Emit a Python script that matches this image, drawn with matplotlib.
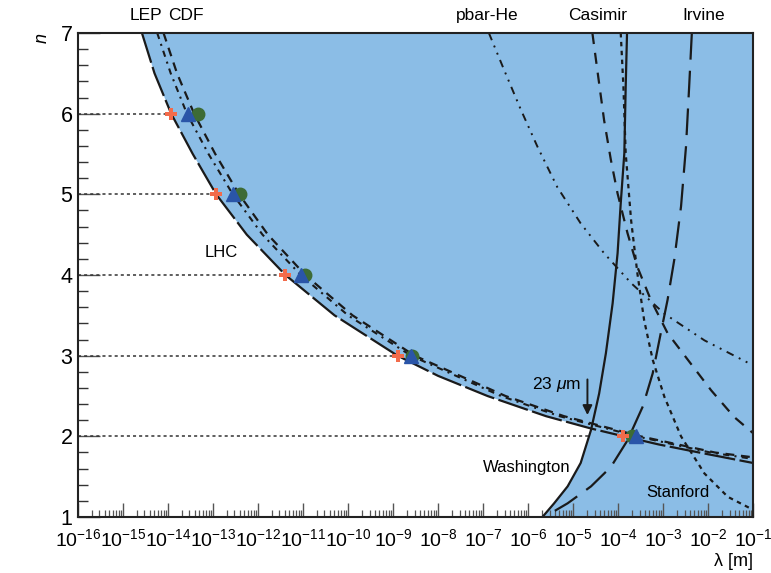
import numpy as np
import matplotlib
matplotlib.use('Agg')
import matplotlib.pyplot as plt
from matplotlib.ticker import LogLocator, FuncFormatter, MultipleLocator, NullFormatter

plt.rcParams['font.family'] = ['Liberation Sans', 'DejaVu Sans']
plt.rcParams['mathtext.fontset'] = 'custom'
plt.rcParams['mathtext.rm'] = 'Liberation Sans'
plt.rcParams['mathtext.it'] = 'Liberation Sans:italic'
plt.rcParams['mathtext.default'] = 'regular'

# curves: log10(lambda / m) against n
lhc_n = [7, 6.5, 6, 5.5, 5, 4.5, 4, 3.5, 3, 2.75, 2.5, 2.25, 2.1, 2, 1.9, 1.8, 1.67]
lhc_loglam = [-14.58, -14.3, -13.93, -13.45, -12.93, -12.25, -11.39, -10.3, -8.9,
              -8.0, -6.9, -5.6, -4.62, -3.87, -3.1, -2.2, -1.0]

cdf1_n = [7, 6.5, 6, 5.5, 5, 4.5, 4, 3.5, 3, 2.5, 2.25, 2, 1.8, 1.72]
cdf1_loglam = [-14.24, -13.94, -13.58, -13.1, -12.56, -11.9, -11.05, -10.0, -8.6,
               -6.6, -5.3, -3.58, -1.95, -1.0]

cdf2_n = [7, 6.5, 6, 5.5, 5, 4.5, 4, 3.5, 3, 2.5, 2.25, 2, 1.8, 1.74]
cdf2_loglam = [-14.1, -13.8, -13.42, -12.95, -12.42, -11.78, -10.95, -9.9, -8.52,
               -6.5, -5.2, -3.5, -1.85, -1.0]

pbar_n = [7.0, 6.54, 6.05, 5.59, 5.09, 4.64, 4.27, 3.90, 3.52, 3.19, 2.88]
pbar_loglam = [-6.87, -6.53, -6.16, -5.79, -5.35, -4.83, -4.31, -3.71, -2.97, -2.08, -1.0]

casd_n = [7.0, 6.54, 5.92, 5.43, 5.01, 4.52, 4.10, 3.69, 3.28, 2.95, 2.57, 2.24, 2.04]
casd_loglam = [-4.57, -4.46, -4.31, -4.16, -4.01, -3.79, -3.57, -3.27, -2.90, -2.45,
               -1.93, -1.42, -1.0]

casp_n = [7.0, 6.33, 5.51, 4.68, 4.02, 3.44, 2.95, 2.49, 2.0, 1.54, 1.25, 1.09]
casp_loglam = [-3.94, -3.88, -3.83, -3.71, -3.57, -3.42, -3.23, -2.97, -2.60, -2.08,
               -1.56, -1.0]

wash_n = [1.0, 1.17, 1.38, 1.67, 2.08, 2.53, 3.03, 3.65, 4.27, 4.89, 5.51, 6.33, 7.0]
wash_loglam = [-5.68, -5.42, -5.12, -4.83, -4.60, -4.42, -4.27, -4.12, -4.01, -3.94,
               -3.86, -3.83, -3.80]

irv_n = [7.0, 6.33, 5.59, 4.85, 4.19, 3.69, 3.28, 2.78, 2.37, 1.95, 1.62, 1.38, 1.17, 1.0]
irv_loglam = [-2.36, -2.42, -2.49, -2.60, -2.75, -2.90, -3.05, -3.23, -3.45, -3.79,
              -4.16, -4.60, -5.12, -5.64]

# limit points
pt_n = [6, 5, 4, 3, 2]
cross_loglam = [-13.93, -12.93, -11.39, -8.9, -3.88]
tri_loglam = [-13.55, -12.55, -11.04, -8.59, -3.60]
circ_loglam = [-13.33, -12.39, -10.95, -8.57, -3.70]
hline_end = [-13.93, -12.93, -11.39, -8.9, -4.65]


def lam(v):
    return 10.0 ** np.asarray(v)


fig = plt.figure(figsize=(7.71, 5.73), dpi=100)
ax = fig.add_axes([0.1012, 0.0977, 0.8755, 0.8447])
ax.set_facecolor('#8bbde6')
ax.set_xscale('log')
ax.set_xlim(1e-16, 1e-1)
ax.set_ylim(1, 7)

# white region: below the LHC curve and left of the Washington curve
wn = np.array(wash_n)
wl = np.array(wash_loglam)
ln = np.array(lhc_n)
ll = np.array(lhc_loglam)
keep_l = ln >= 2.1
keep_w = wn < 2.1
poly_x = np.concatenate([[-17], ll[keep_l], wl[keep_w][::-1], [-17]])
poly_y = np.concatenate([[7.5], ln[keep_l], wn[keep_w][::-1], [0.5]])
ax.fill(lam(poly_x), poly_y, color='white', zorder=1, lw=0)
ax.fill(lam([-17, -17, -5.68, -5.68]), [0.5, 1.0, 1.0, 0.5], color='white', zorder=1, lw=0)

lc = '#1a1a1a'
ax.plot(lam(lhc_loglam), lhc_n, color=lc, lw=1.6, ls=(0, (14, 2)), zorder=3)
ax.plot(lam(cdf1_loglam), cdf1_n, color=lc, lw=1.5, ls=(0, (3, 2.5, 1, 2.5)), zorder=3)
ax.plot(lam(cdf2_loglam), cdf2_n, color=lc, lw=1.6, ls=(0, (4, 3)), zorder=3)
ax.plot(lam(pbar_loglam), pbar_n, color=lc, lw=1.4, ls=(0, (4, 3, 1, 3, 1, 3)), zorder=3)
ax.plot(lam(casd_loglam), casd_n, color=lc, lw=1.6, ls=(0, (5, 4)), zorder=3)
ax.plot(lam(casp_loglam), casp_n, color=lc, lw=1.6, ls=(0, (2, 2)), zorder=3)
ax.plot(lam(wash_loglam), wash_n, color=lc, lw=1.6, ls='-', zorder=3)
ax.plot(lam(irv_loglam), irv_n, color=lc, lw=1.6, ls=(0, (12, 5)), zorder=3)

for n, x in zip(pt_n, hline_end):
    ax.plot([1e-16, 10 ** x], [n, n], color='#333333', lw=1.1, ls=(0, (2, 2)), zorder=2)

ax.plot(lam(circ_loglam), pt_n, 'o', color='#3d6b35', ms=9, zorder=4, ls='none')
ax.plot(lam(tri_loglam), pt_n, '^', color='#2a55a8', ms=9.5, zorder=5, ls='none')
ax.plot(lam(cross_loglam), pt_n, 'P', color='#f26b4b', ms=9, mew=0, zorder=6, ls='none')

ax.annotate('', xy=(10 ** -4.68, 2.23), xytext=(10 ** -4.68, 2.74),
            arrowprops=dict(arrowstyle='-|>', color=lc, lw=1.4, mutation_scale=14), zorder=6)
ax.text(10 ** -4.83, 2.64, r'23 $\mathit{\mu}$m', fontsize=12.5, ha='right', va='center', zorder=6)

ax.text(10 ** -12.82, 4.28, 'LHC', fontsize=12, ha='center', va='center', zorder=6)
ax.text(10 ** -6.02, 1.61, 'Washington', fontsize=12, ha='center', va='center', zorder=6)
ax.text(10 ** -2.67, 1.31, 'Stanford', fontsize=12, ha='center', va='center', zorder=6)

top_labels = ['LEP', 'CDF', 'pbar-He', 'Casimir', 'Irvine']
top_pos = [-14.49, -13.6, -6.9, -4.45, -2.09]
for t, p in zip(top_labels, top_pos):
    ax.text(10 ** p, 1.037, t, fontsize=12.5, ha='center', va='center',
            transform=ax.get_xaxis_transform())

ax.xaxis.set_major_locator(LogLocator(base=10, numticks=30))
ax.xaxis.set_minor_locator(LogLocator(base=10, subs=np.arange(2, 10), numticks=300))
ax.xaxis.set_minor_formatter(NullFormatter())
ax.xaxis.set_major_formatter(FuncFormatter(
    lambda v, p: r'$10^{%d}$' % int(round(np.log10(v)))))
ax.yaxis.set_major_locator(MultipleLocator(1))
ax.yaxis.set_minor_locator(MultipleLocator(0.2))

ax.tick_params(axis='x', which='major', direction='in', length=10, width=1,
               color='#555555', labelsize=14, pad=8)
ax.tick_params(axis='x', which='minor', direction='in', length=5, width=0.9, color='#555555')
ax.tick_params(axis='y', which='major', direction='in', length=16, width=1,
               color='#555555', labelsize=15.5, pad=4)
ax.tick_params(axis='y', which='minor', direction='in', length=7, width=1, color='#333333')

for s in ax.spines.values():
    s.set_linewidth(1.5)
    s.set_color('#222222')
    s.set_zorder(7)

ax.set_xlabel('λ [m]', fontsize=13, loc='right', labelpad=2)
ax.set_ylabel('n', fontsize=13, style='italic', loc='top')
ax.yaxis.set_label_coords(-0.04, 1.0)

plt.savefig('out.png', dpi=100)
plt.close()
